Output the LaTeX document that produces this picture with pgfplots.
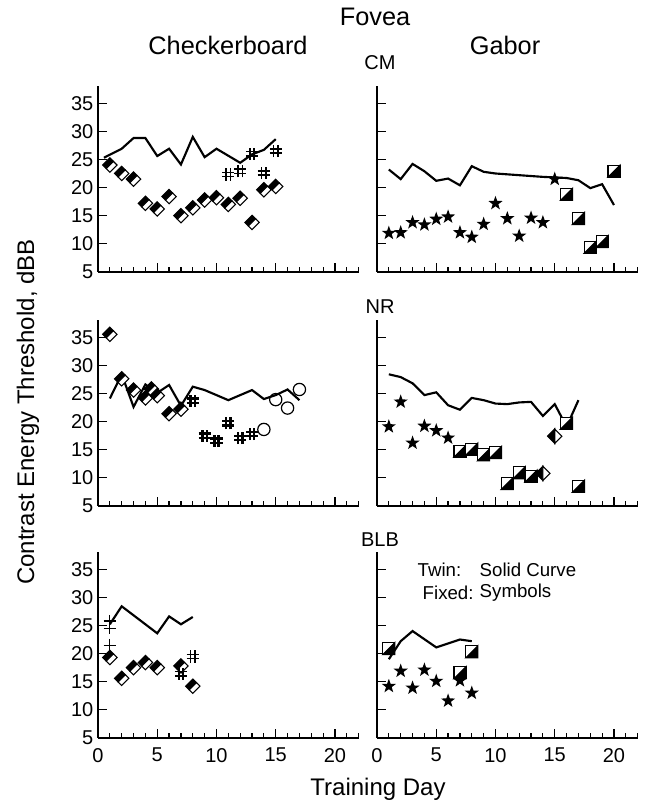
\documentclass[border=0pt]{standalone}
\usepackage{fontspec}
\setmainfont{Liberation Sans}
\usepackage{pgfplots}
\pgfplotsset{compat=1.18}

% checkerboard fixed: diamond, upper-left half black, lower-right half white
\pgfdeclareplotmark{cbd}{%
  \pgfsetfillcolor{black}%
  \pgfpathmoveto{\pgfpoint{0pt}{\pgfplotmarksize}}%
  \pgfpathlineto{\pgfpoint{-\pgfplotmarksize}{0pt}}%
  \pgfpathlineto{\pgfpoint{-0.5\pgfplotmarksize}{-0.5\pgfplotmarksize}}%
  \pgfpathlineto{\pgfpoint{0.5\pgfplotmarksize}{0.5\pgfplotmarksize}}%
  \pgfpathclose\pgfusepathqfillstroke
  \pgfsetfillcolor{white}%
  \pgfpathmoveto{\pgfpoint{0.5\pgfplotmarksize}{0.5\pgfplotmarksize}}%
  \pgfpathlineto{\pgfpoint{\pgfplotmarksize}{0pt}}%
  \pgfpathlineto{\pgfpoint{0pt}{-\pgfplotmarksize}}%
  \pgfpathlineto{\pgfpoint{-0.5\pgfplotmarksize}{-0.5\pgfplotmarksize}}%
  \pgfpathclose\pgfusepathqfillstroke}
% diamond, left half black
\pgfdeclareplotmark{vhd}{%
  \pgfsetfillcolor{black}%
  \pgfpathmoveto{\pgfpoint{0pt}{\pgfplotmarksize}}%
  \pgfpathlineto{\pgfpoint{-\pgfplotmarksize}{0pt}}%
  \pgfpathlineto{\pgfpoint{0pt}{-\pgfplotmarksize}}%
  \pgfpathclose\pgfusepathqfillstroke
  \pgfsetfillcolor{white}%
  \pgfpathmoveto{\pgfpoint{0pt}{\pgfplotmarksize}}%
  \pgfpathlineto{\pgfpoint{\pgfplotmarksize}{0pt}}%
  \pgfpathlineto{\pgfpoint{0pt}{-\pgfplotmarksize}}%
  \pgfpathclose\pgfusepathqfillstroke}
% gabor fixed: square, lower-right triangle black
\pgfdeclareplotmark{gsq}{%
  \pgfsetfillcolor{white}%
  \pgfpathrectangle{\pgfpoint{-\pgfplotmarksize}{-\pgfplotmarksize}}{\pgfpoint{2\pgfplotmarksize}{2\pgfplotmarksize}}%
  \pgfusepathqfillstroke
  \pgfsetfillcolor{black}%
  \pgfpathmoveto{\pgfpoint{-\pgfplotmarksize}{-\pgfplotmarksize}}%
  \pgfpathlineto{\pgfpoint{\pgfplotmarksize}{-\pgfplotmarksize}}%
  \pgfpathlineto{\pgfpoint{\pgfplotmarksize}{\pgfplotmarksize}}%
  \pgfpathclose\pgfusepathqfillstroke}
\pgfdeclareplotmark{fstar}{%
  \pgfsetfillcolor{black}%
  \pgfpathmoveto{\pgfpointpolar{90}{\pgfplotmarksize}}%
  \pgfpathlineto{\pgfpointpolar{126}{0.4\pgfplotmarksize}}%
  \pgfpathlineto{\pgfpointpolar{162}{\pgfplotmarksize}}%
  \pgfpathlineto{\pgfpointpolar{198}{0.4\pgfplotmarksize}}%
  \pgfpathlineto{\pgfpointpolar{234}{\pgfplotmarksize}}%
  \pgfpathlineto{\pgfpointpolar{270}{0.4\pgfplotmarksize}}%
  \pgfpathlineto{\pgfpointpolar{306}{\pgfplotmarksize}}%
  \pgfpathlineto{\pgfpointpolar{342}{0.4\pgfplotmarksize}}%
  \pgfpathlineto{\pgfpointpolar{18}{\pgfplotmarksize}}%
  \pgfpathlineto{\pgfpointpolar{54}{0.4\pgfplotmarksize}}%
  \pgfpathclose\pgfusepathqfill}
\pgfdeclareplotmark{hash}{%
  \pgfpathmoveto{\pgfpoint{-0.35\pgfplotmarksize}{-\pgfplotmarksize}}\pgfpathlineto{\pgfpoint{-0.35\pgfplotmarksize}{\pgfplotmarksize}}%
  \pgfpathmoveto{\pgfpoint{0.35\pgfplotmarksize}{-\pgfplotmarksize}}\pgfpathlineto{\pgfpoint{0.35\pgfplotmarksize}{\pgfplotmarksize}}%
  \pgfpathmoveto{\pgfpoint{-\pgfplotmarksize}{-0.35\pgfplotmarksize}}\pgfpathlineto{\pgfpoint{\pgfplotmarksize}{-0.35\pgfplotmarksize}}%
  \pgfpathmoveto{\pgfpoint{-\pgfplotmarksize}{0.35\pgfplotmarksize}}\pgfpathlineto{\pgfpoint{\pgfplotmarksize}{0.35\pgfplotmarksize}}%
  \pgfusepathqstroke}

\pgfplotsset{
  panel/.style={
    scale only axis, anchor=south west,
    width=195.5pt, height=139.3pt,
    xmin=0, xmax=22, ymin=5, ymax=38,
    axis lines*=left, axis line style={line width=1.2pt},
    xtick={0,5,10,15,20}, minor xtick={1,...,22},
    ytick={5,10,...,35},
    tick align=inside, major tick length=6.5pt, minor tick length=3.5pt,
    every tick/.style={black, line width=0.9pt},
    tick label style={font=\fontsize{15}{15}\selectfont},
    xticklabel style={yshift=-4pt},
    /pgf/number format/assume math mode=true,
    xticklabels={}, clip=false,
  },
  twin/.style={black, line width=1.6pt, no marks},
  cb/.style={only marks, mark=cbd, mark size=5.4pt, mark options={line width=0.8pt}},
  gb/.style={only marks, mark=gsq, mark size=4.5pt, mark options={line width=0.9pt}},
  st/.style={only marks, mark=fstar, mark size=5.6pt},
  hs/.style={only marks, mark=hash, mark size=4.6pt, mark options={line width=1.1pt}},
}

\begin{document}
\begin{tikzpicture}
\path[use as bounding box] (0,0) rectangle (483pt,601.5pt);

% ---- CM ----
\begin{axis}[panel, at={(73.5pt,397.5pt)}]
\addplot[twin] coordinates {(0.5,25.3)(2,26.9)(3,28.8)(4,28.8)(5,25.6)(6,26.9)(7,24.1)(8,29.0)(9,25.4)(10,26.9)(12,24.4)(13,25.9)(14,26.7)(15,28.6)};
\addplot[cb] coordinates {(1,24)(2,22.5)(3,21.5)(4,17.2)(5,16.2)(6,18.4)(7,15)(8,16.4)(9,17.8)(10,18.2)(11,17)(12,18.1)(13,13.8)(14,19.6)(15,20.2)};
\addplot[hs] coordinates {(11,22.3)(12,22.9)(13,26)(14,22.6)(15,26.5)};
\end{axis}
\begin{axis}[panel, at={(282.75pt,397.5pt)}, yticklabels={}]
\addplot[twin] coordinates {(1,23.2)(2,21.5)(3,24.2)(4,22.9)(5,21.2)(6,21.6)(7,20.4)(8,23.8)(9,22.8)(10,22.5)(12,22.2)(14,21.9)(16,21.7)(17,21.3)(18,19.9)(19,20.6)(20,16.9)};
\addplot[st] coordinates {(1,11.9)(2,12)(3,13.8)(4,13.4)(5,14.4)(6,14.8)(7,12)(8,11.2)(9,13.5)(10,17.2)(11,14.5)(12,11.4)(13,14.6)(14,13.8)(15,21.5)};
\addplot[gb] coordinates {(16,18.8)(17,14.5)(18,9.4)(19,10.4)(20,22.9)};
\end{axis}

% ---- NR ----
\begin{axis}[panel, at={(73.5pt,222pt)}]
\addplot[twin] coordinates {(1,24.1)(2,28.4)(3,22.6)(4,26.6)(5,25.1)(6,26.5)(7,22.8)(8,26.2)(9,25.6)(11,23.8)(13,25.6)(14,24.0)(15,24.7)(16,25.7)(17,23.8)};
\addplot[cb] coordinates {(1,35.5)(2,27.6)(3,25.6)(4,24.2)(4.5,25.8)(5,24.6)(6,21.4)(7,22.2)};
\addplot[hs, mark options={line width=1.8pt}] coordinates {(8,23.7)(9,17.5)(10,16.6)(11,19.7)(12,17.1)(13,17.8)};
\addplot[only marks, mark=o, mark size=4.6pt, mark options={line width=0.9pt, fill=white}] coordinates {(14,18.6)(15,23.9)(16,22.4)(17,25.7)};
\end{axis}
\begin{axis}[panel, at={(282.75pt,222pt)}, yticklabels={}]
\addplot[twin] coordinates {(1,28.4)(2,27.9)(3,26.8)(4,24.7)(5,25.2)(6,22.9)(7,22.1)(8,24.2)(9,23.8)(10,23.2)(11,23.1)(12,23.4)(13,23.5)(14,21)(15,23.1)(16,19.1)(17,23.8)};
\addplot[st] coordinates {(1,19.1)(2,23.5)(3,16.2)(4,19.2)(5,18.4)(6,17.1)};
\addplot[gb] coordinates {(7,14.7)(8,15.1)(9,14.1)(10,14.5)(11,9)(12,10.9)(13,10.3)(16,19.7)(17,8.5)};
\addplot[only marks, mark=vhd, mark size=5.4pt, mark options={line width=0.8pt}] coordinates {(14,10.8)(15,17.4)};
\end{axis}

% ---- BLB ----
\begin{axis}[panel, at={(73.5pt,48pt)}, xticklabels={0,5,10,15,20}]
\addplot[twin] coordinates {(1,25.2)(2,28.4)(5,23.6)(6,26.6)(7,25.2)(8,26.5)};
\addplot[only marks, mark=+, mark size=4.6pt, mark options={line width=0.9pt}] coordinates {(1,25.8)(1,24.5)(1,21.5)};
\addplot[cb] coordinates {(1,19.3)(2,15.6)(3,17.5)(4,18.4)(5,17.5)(7,17.8)(8,14.2)};
\addplot[hs] coordinates {(8,19.5)(7,16.4)};
\end{axis}
\begin{axis}[panel, at={(282.75pt,48pt)}, yticklabels={}, xticklabels={0,5,10,15,20}]
\addplot[twin] coordinates {(1,19)(2,22.2)(3,24)(5,21.1)(7,22.5)(8,22.2)};
\addplot[gb] coordinates {(1,20.9)(7,16.6)(8,20.3)};
\addplot[st] coordinates {(1,14.2)(2,16.9)(3,13.9)(4,17.1)(5,15.1)(6,11.6)(7,15.2)(8,13)};
\end{axis}

% ---- labels ----
\node[font=\fontsize{19}{19}\selectfont] at (281.25pt,588.75pt) {Fovea};
\node[font=\fontsize{19}{19}\selectfont] at (171pt,567.75pt) {Checkerboard};
\node[font=\fontsize{19}{19}\selectfont] at (378.75pt,567.75pt) {Gabor};
\node[font=\fontsize{15}{15}\selectfont] at (285pt,554.25pt) {CM};
\node[font=\fontsize{15}{15}\selectfont] at (285pt,371.25pt) {NR};
\node[font=\fontsize{15}{15}\selectfont] at (285pt,196.5pt) {BLB};
\node[font=\fontsize{18}{18}\selectfont, rotate=90] at (21pt,292.5pt) {Contrast Energy Threshold, dBB};
\node[font=\fontsize{18}{18}\selectfont] at (283.5pt,9.75pt) {Training Day};
\node[font=\fontsize{14}{14}\selectfont, anchor=west] at (309.75pt,174pt) {Twin:};
\node[font=\fontsize{14}{14}\selectfont, anchor=west] at (356.25pt,174pt) {Solid Curve};
\node[font=\fontsize{14}{14}\selectfont, anchor=west] at (313.5pt,156.75pt) {Fixed:};
\node[font=\fontsize{14}{14}\selectfont, anchor=west] at (356.25pt,156.75pt) {Symbols};
\end{tikzpicture}
\end{document}
